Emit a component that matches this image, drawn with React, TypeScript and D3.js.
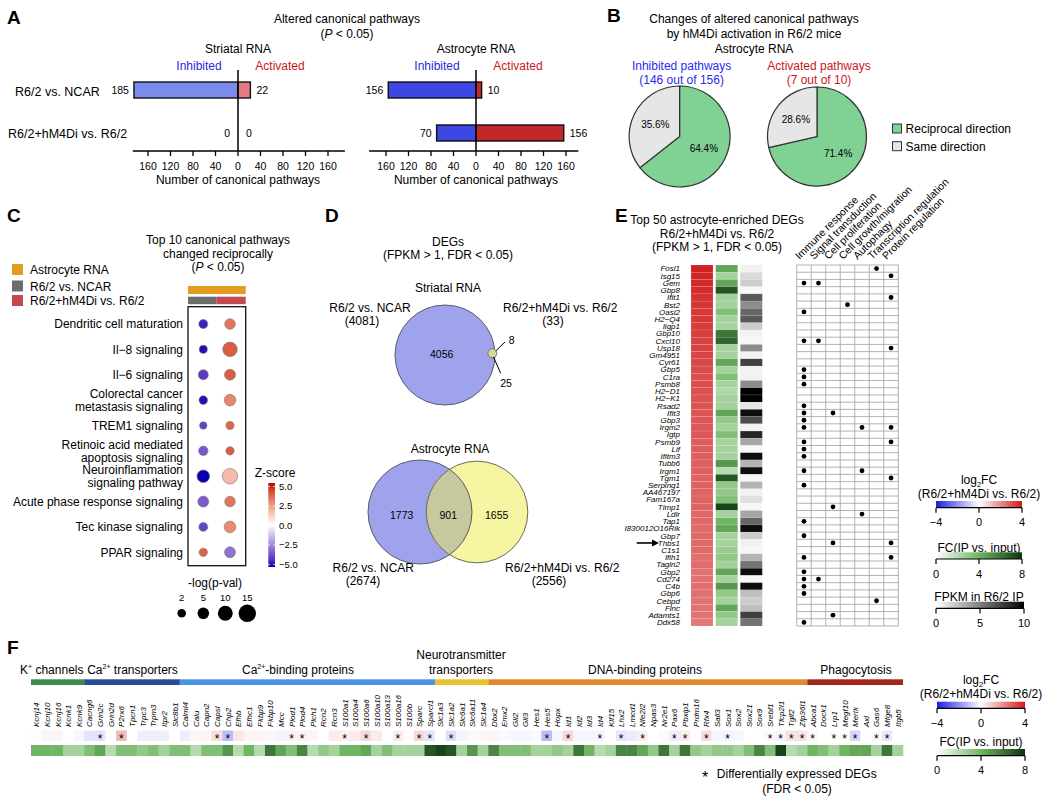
import React from "react";
import * as d3 from "d3";

const FONT = "'Liberation Sans', Arial, Helvetica, sans-serif";

// ===== Panel A =====
const comparisons = ["R6/2 vs. NCAR", "R6/2+hM4Di vs. R6/2"];
const striatalInhibited = [185, 0];
const striatalActivated = [22, 0];
const astrocyteInhibited = [156, 70];
const astrocyteActivated = [10, 156];
const pathwayTicks = [-160, -120, -80, -40, 0, 40, 80, 120, 160];

// ===== Panel B =====
const pieCategories = ["Reciprocal direction", "Same direction"];
const inhibitedPathwaysPct = [64.4, 35.6];
const activatedPathwaysPct = [71.4, 28.6];

// ===== Panel C =====
const topPathways = [
  ["Dendritic cell maturation"],
  ["Il\u22128 signaling"],
  ["Il\u22126 signaling"],
  ["Colorectal cancer", "metastasis signaling"],
  ["TREM1 signaling"],
  ["Retinoic acid mediated", "apoptosis signaling"],
  ["Neuroinflammation", "signaling pathway"],
  ["Acute phase response signaling"],
  ["Tec kinase signaling"],
  ["PPAR signaling"],
];
const zScoreNCAR = [-4.5, -4.8, -4.0, -4.8, -3.8, -3.4, -5.0, -3.3, -3.8, 3.6];
const zScoreHM4Di = [3.2, 3.7, 3.7, 2.8, 3.5, 3.7, 1.6, 3.2, 2.7, -2.8];
const logPNCAR = [2.3, 1.6, 3.3, 2.0, 1.2, 2.7, 6.4, 4.3, 2.3, 1.8];
const logPHM4Di = [3.9, 9.5, 4.3, 5.1, 1.6, 1.8, 11.0, 3.9, 5.1, 4.3];
const pValueLegend = [2, 5, 10, 15];
const zScoreTicks = [5, 2.5, 0, -2.5, -5];
const cLegendLabels = ["Astrocyte RNA", "R6/2 vs. NCAR", "R6/2+hM4Di vs. R6/2"];

// ===== Panel D =====
const striatalCounts = [4056, 25, 8]; // NCAR only, shared, hM4Di only
const striatalTotals = [4081, 33];
const astrocyteCounts = [1773, 901, 1655];
const astrocyteTotals = [2674, 2556];

// ===== Panel E =====
const topGenes = [
  "Fosl1", "Isg15", "Gem", "Gbp8", "Ifit1", "Bst2", "Oasl2", "H2\u2212Q4", "Iigp1", "Gbp10",
  "Cxcl10", "Usp18", "Gm4951", "Cyr61", "Gbp5", "C1ra", "Psmb8", "H2\u2212D1", "H2\u2212K1", "Rsad2",
  "Ifit3", "Gbp3", "Irgm2", "Igtp", "Psmb9", "Lif", "Ifitm3", "Tubb6", "Irgm1", "Tgm1",
  "Serping1", "AA467197", "Fam167a", "Timp1", "Ldlr", "Tap1", "I830012O16Rik", "Gbp7", "Thbs1", "C1s1",
  "Ifih1", "Tagln2", "Gbp2", "Cd274", "C4b", "Gbp6", "Cebpd", "Flnc", "Adamts1", "Ddx58",
];
const topGenesLog2FC = [
  3.9, 3.8, 3.75, 3.7, 3.6, 3.55, 3.5, 3.45, 3.4, 3.35,
  3.3, 3.3, 3.25, 3.2, 3.15, 3.1, 3.1, 3.05, 3.0, 3.0,
  2.95, 2.95, 2.9, 2.9, 2.85, 2.85, 2.8, 2.8, 2.8, 2.75,
  2.75, 2.7, 2.7, 2.7, 2.65, 2.65, 2.6, 2.6, 2.6, 2.6,
  2.55, 2.55, 2.5, 2.5, 2.5, 2.5, 2.45, 2.45, 2.45, 2.4,
];
const topGenesFCIP = [
  4.5, 2.5, 4.5, 7, 2.5, 2.5, 3.5, 2.5, 2.5, 6,
  6.5, 2.5, 2.5, 4.5, 2.5, 3.5, 2.5, 2.2, 2.5, 2.5,
  4.5, 3, 2.5, 3.5, 2.5, 2.5, 2.5, 5, 2, 7,
  3, 3, 3.5, 7.5, 2.5, 4, 4.5, 2.5, 2.5, 2.8,
  3, 2.5, 4.5, 2.5, 5, 3, 2.5, 4.5, 3, 2.5,
];
const topGenesFPKM = [
  0.5, 1.5, 2, 0.3, 6.5, 4.5, 6, 6.5, 2, 0.5,
  0.3, 4.5, 0.5, 7.5, 0.5, 0.5, 4.5, 10, 10, 1,
  9.5, 7, 0.5, 8.5, 3.5, 0.3, 9.5, 3, 9.5, 0.3,
  3, 0.5, 1.2, 0.3, 3.5, 6, 9.5, 2, 0.5, 0.3,
  3, 5.5, 9.5, 0.3, 9.5, 2.5, 2, 2.5, 7.5, 5.5,
];
const functionCategories = [
  "Immune response", "Signal transduction", "Cell proliferation", "Cell growth/migration",
  "Autophagy", "Transcription regulation", "Protein regulation",
];
const immuneResponseGenes = ["Gem", "Oasl2", "Cxcl10", "Gbp5", "C1ra", "Psmb8", "Rsad2", "Ifit3", "Gbp3", "Irgm2", "Psmb9", "Lif", "Ifitm3", "Irgm1", "Serping1", "Tap1", "Gbp7", "Ifih1", "Gbp2", "Cd274", "C4b", "Gbp6", "Ddx58"];
const signalTransductionGenes = ["Gem", "Cxcl10", "Cd274"];
const cellProliferationGenes = ["Ifit3", "Timp1", "Thbs1", "Adamts1"];
const cellGrowthGenes = ["Bst2"];
const autophagyGenes = ["Irgm2", "Irgm1", "Ldlr"];
const transcriptionGenes = ["Fosl1", "Cebpd"];
const proteinRegulationGenes = ["Isg15", "Ifit1", "Usp18", "Irgm2", "Psmb9", "Tgm1", "Thbs1", "Ifih1"];
const functionMembers = [immuneResponseGenes, signalTransductionGenes, cellProliferationGenes, cellGrowthGenes, autophagyGenes, transcriptionGenes, proteinRegulationGenes];

// ===== Panel F =====
const fGroupSizes = [5, 9, 24, 5, 30, 9];
const fGroupColors = ["#3d8b4d", "#2b4c8e", "#4a94e2", "#e8c32a", "#e08a2f", "#a3281b"];
const fGenes = [
  "Kcnj14", "Kcnj10", "Kcnj16", "Kcnk1", "Kcnk9",
  "Cacng6", "Grin2c", "Grin2d", "P2rx6", "Tpcn1", "Trpc3", "Trpm3", "Itpr2", "Slc8b1",
  "Calml4", "Calu", "Capn2", "Capsl", "Chp2", "Efhb", "Efhc1", "Fkbp9", "Fkbp10", "Mcc", "Plod1", "Plod4",
  "Plch1", "Rcn2", "Rcn3", "S100a1", "S100a4", "S100a6", "S100a10", "S100a13", "S100a16", "S100b", "Sparc", "Sparcl1",
  "Slc1a3", "Slc1a2", "Slc6a1", "Slc6a11", "Slc1a4",
  "Dbx2", "Emx2", "Gli2", "Gli3", "Hes1", "Hes5", "Hopx", "Id1", "Id2", "Id3", "Id4", "Klf15", "Lhx2", "Lmcd1",
  "Nfe2l2", "Npas3", "Nr2e1", "Pax6", "Pbxip1", "Prdm16", "Rfx4", "Sall3", "Sox1", "Sox2", "Sox21", "Sox9",
  "Srebf1", "Tfcp2l1", "Tgif2", "Zfp36l1",
  "Abca1", "Dock1", "Lrp1", "Megf10", "Mertk", "Axl", "Gas6", "Mfge8", "Itgb5",
];
const fLog2FC = [
  0.05, -0.15, 0.2, 0, -0.15,
  -0.5, -0.5, 0.05, 1.2, 0, -0.3, -0.3, -0.3, 0,
  -0.3, 0.15, 0.2, 0.6, -1.2, 0.45, 0.2, 0.2, 0.15, -0.2, 0.25, 0.25,
  0.2, 0, 0.35, 0.3, 0.35, 0.7, 0.35, 0, 0.35, 0.05, 0.7, -0.45,
  0, -0.6, -0.2, 0.1, 0.15,
  0.2, -0.1, -0.15, -0.15, -0.1, -1.2, -0.15, 0.7, -0.15, -0.15, -0.2, 0, -0.45, -0.35,
  0.3, 0, 0.1, -0.3, 0.35, 0, 0.6, -0.15, -0.2, -0.15, 0, 0.05,
  0.1, -0.2, 0.5, 0.5,
  0.1, 0, 0.05, 0.05, -0.7, 0, 0.1, -0.4, 0,
];
const fFCIP = [
  4, 4, 4, 2.5, 2.5,
  3.5, 4.5, 2, 3.5, 3.5, 3, 3.5, 2.5, 3.5,
  3.5, 2, 3.5, 3.5, 5, 2, 4, 2, 6, 4.5, 3.5, 5.5,
  2, 3, 2.5, 4, 4, 4.5, 2.5, 3.5, 2.5, 2.5, 2.5, 7,
  7.5, 7, 2.5, 5, 2.5,
  5.5, 3.5, 3.5, 3.5, 2.5, 2.5, 3, 2.5, 6, 4, 2, 2.5, 5.5, 5.5,
  4.5, 3, 6, 2.5, 6, 3, 2.5, 3, 3, 2.5, 3.5, 5.5,
  3.5, 7.5, 2, 2.5,
  4, 3.5, 2.5, 4, 4.5, 4.5, 2.5, 6, 2.5,
];
const fSignificant = [
  "Grin2c", "P2rx6", "Capsl", "Chp2", "Plod1", "Plod4", "S100a1", "S100a6", "S100a16", "Sparc", "Sparcl1", "Slc1a2",
  "Hes5", "Id1", "Id4", "Lhx2", "Nfe2l2", "Pax6", "Pbxip1", "Rfx4", "Sox1", "Srebf1", "Tfcp2l1", "Tgif2", "Zfp36l1",
  "Abca1", "Lrp1", "Megf10", "Mertk", "Gas6", "Mfge8",
];
const log2Ticks = [-4, 0, 4];
const fcTicks = [0, 4, 8];
const fpkmTicks = [0, 5, 10];

// ===== colour scales =====
const log2Color = d3.scaleLinear<string>().domain([-4, 0, 4]).range(["#1c1ce6", "#ffffff", "#d01a1a"]);
const greenColor = d3.scaleLinear<string>().domain([0, 4, 8]).range(["#ffffff", "#6fb662", "#0c3410"]);
const grayColor = d3.scaleLinear<string>().domain([0, 10]).range(["#ffffff", "#000000"]);
const zColor = d3.scaleLinear<string>().domain([-5, 0, 5]).range(["#0a00b0", "#ffffff", "#c00000"]).interpolate(d3.interpolateLab);
const sizeScale = d3.scaleSqrt().domain([2, 15]).range([4.3, 8.7]);

function Grad({ id, scale, domain, vertical = false }: any) {
  const n = 10;
  const stops = d3.range(n + 1).map((i) => domain[0] + ((domain[1] - domain[0]) * i) / n);
  return (
    <linearGradient id={id} x1="0" y1="0" x2={vertical ? "0" : "1"} y2={vertical ? "1" : "0"}>
      {stops.map((v, i) => (
        <stop key={i} offset={`${(i / n) * 100}%`} stopColor={scale(v)} />
      ))}
    </linearGradient>
  );
}

function PanelLetter({ x, y, t }: any) {
  return (
    <text x={x} y={y} fontSize={19} fontWeight="bold">{t}</text>
  );
}

// ---------- Panel A ----------
function PathwayBars({ cx, title, inh, act, inhColor, actColor, axisMin, axisMax }: any) {
  const x = d3.scaleLinear().domain([-160, 160]).range([cx - 90, cx + 90]);
  const y = d3.scalePoint().domain(comparisons).range([90, 133]);
  const bh = 16;
  const axisY = 151;
  return (
    <g>
      <text x={cx} y={52.5} textAnchor="middle" fontSize={12}>{title}</text>
      <text x={cx - 39} y={70} textAnchor="middle" fontSize={12} fill="#2a2ad8">Inhibited</text>
      <text x={cx + 42} y={70} textAnchor="middle" fontSize={12} fill="#c8181c">Activated</text>
      {comparisons.map((c, i) => {
        const yc = y(c) as number;
        return (
          <g key={c}>
            {inh[i] > 0 && (
              <rect x={x(-inh[i])} y={yc - bh / 2} width={x(0) - x(-inh[i])} height={bh} fill={inhColor} stroke="#111" strokeWidth={1.4} />
            )}
            {act[i] > 0 && (
              <rect x={x(0)} y={yc - bh / 2} width={x(act[i]) - x(0)} height={bh} fill={actColor} stroke="#111" strokeWidth={1.4} />
            )}
            <text x={x(-inh[i]) - (inh[i] > 0 ? 5 : 8)} y={yc + 4} textAnchor="end" fontSize={10.5}>{inh[i]}</text>
            <text x={x(act[i]) + (act[i] > 0 ? 6 : 8)} y={yc + 4} textAnchor="start" fontSize={10.5}>{act[i]}</text>
          </g>
        );
      })}
      <line x1={x(0)} x2={x(0)} y1={70} y2={axisY} stroke="#000" strokeWidth={1.5} />
      <line x1={x(axisMin)} x2={x(axisMax)} y1={axisY} y2={axisY} stroke="#000" strokeWidth={1.5} />
      {pathwayTicks.map((t, i) => (
        <g key={i}>
          <line x1={x(t)} x2={x(t)} y1={axisY} y2={axisY + 5} stroke="#000" strokeWidth={1.3} />
          <text x={x(t)} y={169.5} textAnchor="middle" fontSize={10.5}>{Math.abs(t)}</text>
        </g>
      ))}
      <text x={cx} y={184} textAnchor="middle" fontSize={12}>Number of canonical pathways</text>
    </g>
  );
}

function PanelA() {
  return (
    <g>
      <PanelLetter x={7} y={24} t="A" />
      <text x={347} y={23} textAnchor="middle" fontSize={12}>Altered canonical pathways</text>
      <text x={347} y={37.5} textAnchor="middle" fontSize={12}>(<tspan fontStyle="italic">P</tspan> &lt; 0.05)</text>
      <text x={15} y={96} fontSize={12.5}>{comparisons[0]}</text>
      <text x={8} y={137.5} fontSize={12.5}>{comparisons[1]}</text>
      <PathwayBars cx={238} title="Striatal RNA" inh={striatalInhibited} act={striatalActivated} inhColor="#7b8bea" actColor="#e27c82" axisMin={-187} axisMax={190} />
      <PathwayBars cx={476} title="Astrocyte RNA" inh={astrocyteInhibited} act={astrocyteActivated} inhColor="#3d47e4" actColor="#c1272b" axisMin={-190} axisMax={182} />
    </g>
  );
}

// ---------- Panel B ----------
function Pie({ cx, cy, r, values, t1, t2, color }: any) {
  const pie = d3.pie<number>().sort(null).value((d) => d);
  const arcs = pie(values);
  const arc = d3.arc<any>().innerRadius(0).outerRadius(r);
  const lab = d3.arc<any>().innerRadius(27).outerRadius(27);
  const fills = ["#80d294", "#e6e6e6"];
  return (
    <g>
      <text x={cx + 2} y={70} textAnchor="middle" fontSize={12} fill={color}>{t1}</text>
      <text x={cx + 2} y={83.5} textAnchor="middle" fontSize={12} fill={color}>{t2}</text>
      <g transform={`translate(${cx},${cy})`}>
        {arcs.map((a, i) => (
          <path key={i} d={arc(a) as string} fill={fills[i]} stroke="#333" strokeWidth={1.2} />
        ))}
        {arcs.map((a, i) => {
          const [lx, ly] = lab.centroid(a);
          return (
            <text key={"l" + i} x={lx} y={ly + 3.5} textAnchor="middle" fontSize={10}>{values[i].toFixed(1)}%</text>
          );
        })}
      </g>
    </g>
  );
}

function PanelB() {
  return (
    <g>
      <PanelLetter x={607} y={22} t="B" />
      <text x={754} y={23} textAnchor="middle" fontSize={12}>Changes of altered canonical pathways</text>
      <text x={754} y={37.5} textAnchor="middle" fontSize={12}>by hM4Di activation in R6/2 mice</text>
      <text x={754} y={52.5} textAnchor="middle" fontSize={12}>Astrocyte RNA</text>
      <Pie cx={679.6} cy={136.5} r={50.5} values={inhibitedPathwaysPct} t1="Inhibited pathways" t2="(146 out of 156)" color="#2a2af0" />
      <Pie cx={817} cy={136.5} r={49.5} values={activatedPathwaysPct} t1="Activated pathways" t2="(7 out of 10)" color="#c8181c" />
      {pieCategories.map((c, i) => (
        <g key={c}>
          <rect x={892.5} y={124 + i * 17.7} width={9} height={9} fill={i === 0 ? "#80d294" : "#e6e6e6"} stroke="#333" strokeWidth={1} />
          <text x={905.6} y={132.8 + i * 17.7} fontSize={12}>{c}</text>
        </g>
      ))}
    </g>
  );
}

// ---------- Panel C ----------
function PanelC() {
  const y = d3.scalePoint<number>().domain(d3.range(topPathways.length)).range([324, 552.3]);
  const xc = [203.3, 230];
  const zY = d3.scaleLinear().domain([5, -5]).range([486.5, 564.5]);
  const legendColors = ["#e39b22", "#6d6d6d", "#c4494e"];
  return (
    <g>
      <PanelLetter x={7} y={222} t="C" />
      <text x={218} y={243.5} textAnchor="middle" fontSize={12}>Top 10 canonical pathways</text>
      <text x={218} y={257.5} textAnchor="middle" fontSize={12}>changed reciprocally</text>
      <text x={218} y={271} textAnchor="middle" fontSize={12}>(<tspan fontStyle="italic">P</tspan> &lt; 0.05)</text>
      {cLegendLabels.map((l, i) => (
        <g key={l}>
          <rect x={12} y={[264, 280.5, 295][i]} width={11} height={11} fill={legendColors[i]} />
          <text x={30} y={[274, 290.5, 305][i]} fontSize={12}>{l}</text>
        </g>
      ))}
      <rect x={188} y={286} width={57.7} height={8} fill={legendColors[0]} />
      <rect x={188} y={296.7} width={28.7} height={7.5} fill={legendColors[1]} />
      <rect x={216.7} y={296.7} width={29} height={7.5} fill={legendColors[2]} />
      <rect x={188} y={306.7} width={57.7} height={259} fill="none" stroke="#111" strokeWidth={1.3} />
      {topPathways.map((lines, i) => {
        const yc = y(i) as number;
        return (
          <g key={i}>
            {lines.map((ln, j) => (
              <text key={j} x={183} y={yc + 4.2 + (lines.length === 2 ? (j === 0 ? -6.5 : 6.5) : 0)} textAnchor="end" fontSize={12}>{ln}</text>
            ))}
            <circle cx={xc[0]} cy={yc} r={sizeScale(logPNCAR[i])} fill={zColor(zScoreNCAR[i])} stroke="#777" strokeWidth={0.6} />
            <circle cx={xc[1]} cy={yc} r={sizeScale(logPHM4Di[i])} fill={zColor(zScoreHM4Di[i])} stroke="#777" strokeWidth={0.6} />
          </g>
        );
      })}
      <text x={275} y={477} textAnchor="middle" fontSize={12}>Z-score</text>
      <rect x={268.3} y={483} width={6.7} height={84} fill="url(#gradZ)" />
      {zScoreTicks.map((t) => (
        <g key={t}>
          <line x1={268.3} x2={270} y1={zY(t)} y2={zY(t)} stroke="#fff" strokeWidth={0.8} />
          <line x1={273.3} x2={275} y1={zY(t)} y2={zY(t)} stroke="#fff" strokeWidth={0.8} />
          <text x={279} y={zY(t) + 3.3} fontSize={9.5}>{t === 0 ? "0.0" : (t < 0 ? "\u2212" : "") + Math.abs(t).toFixed(1)}</text>
        </g>
      ))}
      <text x={215} y={587} textAnchor="middle" fontSize={12}>-log(p-val)</text>
      {pValueLegend.map((v, i) => {
        const cx = [181.7, 203.3, 225.3, 247.3][i];
        return (
          <g key={v}>
            <text x={cx} y={601} textAnchor="middle" fontSize={9.5}>{v}</text>
            <circle cx={cx} cy={613.3} r={sizeScale(v)} fill="#000" />
          </g>
        );
      })}
    </g>
  );
}

// ---------- Panel D ----------
function PanelD() {
  const rS = d3.scaleSqrt().domain([0, striatalTotals[0]]).range([0, 50]);
  const rA = d3.scaleSqrt().domain([0, astrocyteTotals[0]]).range([0, 52]);
  const aL = { x: 420, y: 512, r: rA(astrocyteTotals[0]) };
  const aR = { x: 477, y: 512, r: rA(astrocyteTotals[1]) };
  return (
    <g>
      <defs>
        <clipPath id="clipAL"><circle cx={aL.x} cy={aL.y} r={aL.r} /></clipPath>
      </defs>
      <PanelLetter x={325} y={222} t="D" />
      <text x={448} y={245.5} textAnchor="middle" fontSize={12}>DEGs</text>
      <text x={448} y={258.5} textAnchor="middle" fontSize={12}>(FPKM &gt; 1, FDR &lt; 0.05)</text>
      <text x={448} y={291.5} textAnchor="middle" fontSize={12}>Striatal RNA</text>
      <text x={370} y={312} textAnchor="middle" fontSize={12}>R6/2 vs. NCAR</text>
      <text x={362} y={325} textAnchor="middle" fontSize={12}>({striatalTotals[0]})</text>
      <text x={503} y={312} fontSize={12}>R6/2+hM4Di vs. R6/2</text>
      <text x={553} y={325} textAnchor="middle" fontSize={12}>({striatalTotals[1]})</text>
      <circle cx={445} cy={355} r={rS(striatalTotals[0])} fill="#9fa3ec" stroke="#5a5a6a" strokeWidth={1} />
      <circle cx={492.3} cy={353.3} r={rS(striatalTotals[1])} fill="#d5da95" stroke="#666" strokeWidth={0.8} />
      <text x={441.7} y={358} textAnchor="middle" fontSize={10.5}>{striatalCounts[0]}</text>
      <line x1={495.7} y1={351} x2={505} y2={342} stroke="#000" strokeWidth={1} />
      <line x1={493.5} y1={357} x2={500.7} y2={373.3} stroke="#000" strokeWidth={1} />
      <text x={511.7} y={344} textAnchor="middle" fontSize={10.5}>{striatalCounts[2]}</text>
      <text x={506} y={386.5} textAnchor="middle" fontSize={10.5}>{striatalCounts[1]}</text>

      <text x={450} y={452.5} textAnchor="middle" fontSize={12}>Astrocyte RNA</text>
      <circle cx={aL.x} cy={aL.y} r={aL.r} fill="#9fa3ec" />
      <circle cx={aR.x} cy={aR.y} r={aR.r} fill="#f5f5a2" />
      <circle cx={aR.x} cy={aR.y} r={aR.r} fill="#c6c89e" clipPath="url(#clipAL)" />
      <circle cx={aL.x} cy={aL.y} r={aL.r} fill="none" stroke="#5a5a6a" strokeWidth={1} />
      <circle cx={aR.x} cy={aR.y} r={aR.r} fill="none" stroke="#6a6a5a" strokeWidth={1} />
      <text x={401.7} y={519} textAnchor="middle" fontSize={10.5}>{astrocyteCounts[0]}</text>
      <text x={448.3} y={519} textAnchor="middle" fontSize={10.5}>{astrocyteCounts[1]}</text>
      <text x={496.7} y={519} textAnchor="middle" fontSize={10.5}>{astrocyteCounts[2]}</text>
      <text x={373.3} y={572} textAnchor="middle" fontSize={12}>R6/2 vs. NCAR</text>
      <text x={363} y={585} textAnchor="middle" fontSize={12}>({astrocyteTotals[0]})</text>
      <text x={505} y={572} fontSize={12}>R6/2+hM4Di vs. R6/2</text>
      <text x={549} y={585} textAnchor="middle" fontSize={12}>({astrocyteTotals[1]})</text>
    </g>
  );
}

// ---------- colour legends ----------
function ColorBar({ x0, x1, y, h, grad, domain, ticks, fmt }: any) {
  const s = d3.scaleLinear().domain(domain).range([x0, x1]);
  return (
    <g>
      <rect x={x0} y={y} width={x1 - x0} height={h} fill={`url(#${grad})`} />
      <line x1={x0} x2={x1} y1={y + h} y2={y + h} stroke="#000" strokeWidth={1.2} />
      {ticks.map((t: number) => (
        <g key={t}>
          <line x1={s(t)} x2={s(t)} y1={y + h} y2={y + h + 5} stroke="#000" strokeWidth={1.2} />
          <text x={s(t)} y={y + h + 18.5} textAnchor="middle" fontSize={11}>{fmt ? fmt(t) : t}</text>
        </g>
      ))}
    </g>
  );
}

const minusFmt = (t: number) => (t < 0 ? "\u2212" + Math.abs(t) : String(t));

function Log2Title({ x, y }: any) {
  return (
    <g>
      <text x={x} y={y} textAnchor="middle" fontSize={12}>log<tspan fontSize={7.5} dy={3}>2</tspan><tspan dy={-3}>FC</tspan></text>
      <text x={x} y={y + 14} textAnchor="middle" fontSize={12}>(R6/2+hM4Di vs. R6/2)</text>
    </g>
  );
}

// ---------- Panel E ----------
function PanelE() {
  const rowY = d3.scaleBand().domain(topGenes).range([265, 626]);
  const colX = d3.scaleBand().domain(functionCategories).range([796.7, 898.3]);
  const hx = [691, 715.7, 740.3];
  const hw = 22;
  const rh = rowY.bandwidth();
  const cw = colX.bandwidth();
  return (
    <g>
      <PanelLetter x={615} y={222} t="E" />
      <text x={717} y={224} textAnchor="middle" fontSize={12}>Top 50 astrocyte-enriched DEGs</text>
      <text x={717} y={237.5} textAnchor="middle" fontSize={12}>R6/2+hM4Di vs. R6/2</text>
      <text x={717} y={251} textAnchor="middle" fontSize={12}>(FPKM &gt; 1, FDR &lt; 0.05)</text>
      {topGenes.map((g, i) => {
        const y0 = rowY(g) as number;
        return (
          <g key={g}>
            <text x={680} y={y0 + rh / 2 + 2.8} textAnchor="end" fontSize={8} fontStyle="italic">{g}</text>
            <rect x={hx[0]} y={y0} width={hw} height={rh} fill={log2Color(topGenesLog2FC[i])} stroke="rgba(255,255,255,0.25)" strokeWidth={0.4} />
            <rect x={hx[1]} y={y0} width={hw} height={rh} fill={greenColor(topGenesFCIP[i])} stroke="rgba(255,255,255,0.25)" strokeWidth={0.4} />
            <rect x={hx[2]} y={y0} width={hw} height={rh} fill={grayColor(topGenesFPKM[i])} stroke="rgba(255,255,255,0.25)" strokeWidth={0.4} />
          </g>
        );
      })}
      {/* arrow pointing to Thbs1 */}
      <line x1={636.7} x2={655} y1={(rowY("Thbs1") as number) + rh / 2} y2={(rowY("Thbs1") as number) + rh / 2} stroke="#000" strokeWidth={1.6} />
      <path d={`M ${659} ${(rowY("Thbs1") as number) + rh / 2} l -7 -3.5 l 0 7 z`} fill="#000" />

      {/* function matrix */}
      {topGenes.map((g) => (
        <line key={"h" + g} x1={796.7} x2={898.3} y1={rowY(g) as number} y2={rowY(g) as number} stroke="#a0a0a0" strokeWidth={0.8} />
      ))}
      <line x1={796.7} x2={898.3} y1={626} y2={626} stroke="#a0a0a0" strokeWidth={0.8} />
      {functionCategories.map((c) => (
        <line key={"v" + c} x1={colX(c) as number} x2={colX(c) as number} y1={265} y2={626} stroke="#a0a0a0" strokeWidth={0.8} />
      ))}
      <line x1={898.3} x2={898.3} y1={265} y2={626} stroke="#a0a0a0" strokeWidth={0.8} />
      {functionCategories.map((c, ci) => {
        const cx = (colX(c) as number) + cw / 2;
        return (
          <g key={c}>
            <text transform={`translate(${cx - 4.5},260) rotate(-45)`} fontSize={10.5}>{c}</text>
            {functionMembers[ci].map((g) => (
              <circle key={g} cx={cx} cy={(rowY(g) as number) + rh / 2} r={2.4} fill="#000" />
            ))}
          </g>
        );
      })}

      {/* legends */}
      <Log2Title x={979} y={483.5} />
      <ColorBar x0={936} x1={1022} y={501} h={6.7} grad="gradRB" domain={[-4, 4]} ticks={log2Ticks} fmt={minusFmt} />
      <text x={979} y={551.5} textAnchor="middle" fontSize={12}>FC(IP vs. input)</text>
      <ColorBar x0={936} x1={1022} y={552.3} h={6.7} grad="gradG" domain={[0, 8]} ticks={fcTicks} />
      <text x={979} y={600.5} textAnchor="middle" fontSize={12}>FPKM in R6/2 IP</text>
      <ColorBar x0={936} x1={1024} y={601.7} h={6.7} grad="gradK" domain={[0, 10]} ticks={fpkmTicks} />
    </g>
  );
}

// ---------- Panel F ----------
function Sup({ children }: any) {
  return <tspan fontSize={7} dy={-5}>{children}</tspan>;
}

function PanelF() {
  const fx = d3.scaleBand().domain(fGenes).range([31, 903]);
  const bw = fx.bandwidth();
  const starts = d3.cumsum([0, ...fGroupSizes]);
  const groupLabelX = [51, 132.5, 298, 461, 645, 856];
  const rowTop = [730.5, 745];
  const rowH = [10.5, 11];
  return (
    <g>
      <PanelLetter x={7} y={654} t="F" />
      <text x={20} y={674} fontSize={12}>K<Sup>+</Sup><tspan dy={5}> channels</tspan></text>
      <text x={groupLabelX[1]} y={674} textAnchor="middle" fontSize={12}>Ca<Sup>2+</Sup><tspan dy={5}> transporters</tspan></text>
      <text x={groupLabelX[2]} y={674} textAnchor="middle" fontSize={12}>Ca<Sup>2+</Sup><tspan dy={5}>-binding proteins</tspan></text>
      <text x={groupLabelX[3]} y={659} textAnchor="middle" fontSize={12}>Neurotransmitter</text>
      <text x={groupLabelX[3]} y={674} textAnchor="middle" fontSize={12}>transporters</text>
      <text x={groupLabelX[4]} y={674} textAnchor="middle" fontSize={12}>DNA-binding proteins</text>
      <text x={groupLabelX[5]} y={674} textAnchor="middle" fontSize={12}>Phagocytosis</text>
      {fGroupSizes.map((n, i) => {
        const xa = fx(fGenes[starts[i]]) as number;
        return <rect key={i} x={xa} y={679.3} width={n * bw} height={5.7} fill={fGroupColors[i]} />;
      })}
      {fGenes.map((g, i) => {
        const x0 = fx(g) as number;
        const cx = x0 + bw / 2;
        return (
          <g key={g}>
            <text transform={`translate(${cx + 3},727) rotate(-90)`} fontSize={8} fontStyle="italic">{g}</text>
            <rect x={x0} y={rowTop[0]} width={bw + 0.3} height={rowH[0]} fill={log2Color(fLog2FC[i])} />
            <rect x={x0} y={rowTop[1]} width={bw + 0.3} height={rowH[1]} fill={greenColor(fFCIP[i])} />
            {fSignificant.includes(g) && (
              <text x={cx} y={rowTop[0] + 12.3} textAnchor="middle" fontSize={12}>*</text>
            )}
          </g>
        );
      })}
      <text x={705} y={783} textAnchor="middle" fontSize={16}>*</text>
      <text x={716.8} y={777.5} fontSize={12}>Differentially expressed DEGs</text>
      <text x={797} y={792.5} textAnchor="middle" fontSize={12}>(FDR &lt; 0.05)</text>

      <Log2Title x={981} y={684} />
      <ColorBar x0={937} x1={1025} y={701.7} h={6.6} grad="gradRB" domain={[-4, 4]} ticks={log2Ticks} fmt={minusFmt} />
      <text x={981} y={746} textAnchor="middle" fontSize={12}>FC(IP vs. input)</text>
      <ColorBar x0={937} x1={1025} y={749} h={6.7} grad="gradG" domain={[0, 8]} ticks={fcTicks} />
    </g>
  );
}

export default function App() {
  return (
    <svg width={1050} height={799} viewBox="0 0 1050 799" style={{ position: "absolute", left: 0, top: 0, background: "#fff" }} fontFamily={FONT}>
      <defs>
        <Grad id="gradRB" scale={log2Color} domain={[-4, 4]} />
        <Grad id="gradG" scale={greenColor} domain={[0, 8]} />
        <Grad id="gradK" scale={grayColor} domain={[0, 10]} />
        <Grad id="gradZ" scale={zColor} domain={[5, -5]} vertical />
      </defs>
      <rect width={1050} height={799} fill="#fff" />
      <PanelA />
      <PanelB />
      <PanelC />
      <PanelD />
      <PanelE />
      <PanelF />
    </svg>
  );
}
